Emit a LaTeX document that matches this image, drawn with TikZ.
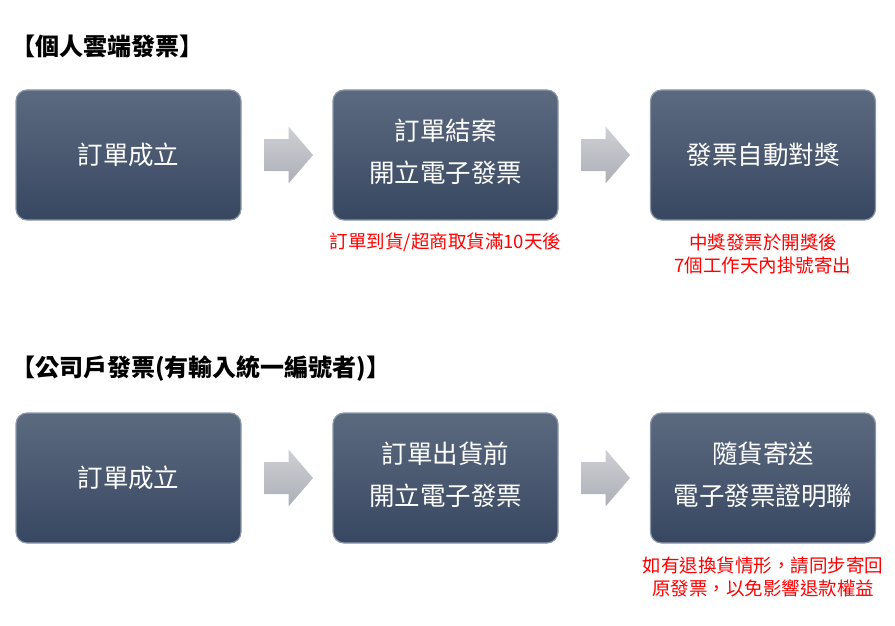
\documentclass[tikz,border=0pt]{standalone}
\usepackage{fontspec}
\setmainfont{Noto Sans CJK TC}
\definecolor{boxtop}{RGB}{92,106,128}
\definecolor{boxbot}{RGB}{56,71,97}
\definecolor{boxedge}{RGB}{140,152,170}
\definecolor{arrowtop}{RGB}{206,208,213}
\definecolor{arrowbot}{RGB}{172,175,182}
\definecolor{notered}{RGB}{255,0,0}
\tikzset{
  stepbox/.style={rounded corners=11pt, minimum width=225pt, minimum height=130pt,
    top color=boxtop, bottom color=boxbot, draw=boxedge, line width=1.2pt,
    inner sep=0pt},
  boxtext/.style={text=white, font=\fontsize{25.5}{42}\selectfont, align=center, inner sep=0pt},
  blockarrow/.style={top color=arrowtop, bottom color=arrowbot, draw=none},
  note/.style={text=notered, font=\fontsize{18.5}{23}\selectfont, align=center, inner sep=0pt},
  title/.style={font=\fontsize{24}{28}\selectfont\bfseries, anchor=west, inner sep=0pt}
}
\newcommand{\blockarr}[1]{%
  \path[blockarrow] ([shift={(-24.5,-16)}]#1) -- ([shift={(0,-16)}]#1) -- ([shift={(0,-28.5)}]#1)
    -- ([shift={(24.5,0)}]#1) -- ([shift={(0,28.5)}]#1) -- ([shift={(0,16)}]#1)
    -- ([shift={(-24.5,16)}]#1) -- cycle;}
\begin{document}
\begin{tikzpicture}[x=1pt,y=-1pt]
\useasboundingbox (0,0) rectangle (895,626);
\node[title] (t1) at (11,46) {【個人雲端發票】};
\node[stepbox] (a1) at (128.5,155) {};
\node[stepbox] (a2) at (445.5,155) {};
\node[stepbox] (a3) at (763,155) {};
\node[boxtext] (a1t) at (a1.center) {訂單成立};
\node[boxtext] (a2t) at ([yshift=3pt]a2.center) {訂單結案\\開立電子發票};
\node[boxtext] (a3t) at (a3.center) {發票自動對獎};
\coordinate (r1) at (288.5,155);
\coordinate (r2) at (605.5,155);
\blockarr{r1}
\blockarr{r2}
\node[note] (n1) at (445.5,242) {訂單到貨/超商取貨滿10天後};
\node[note] (n2) at (763,254) {中獎發票於開獎後\\7個工作天內掛號寄出};
\node[title] (t2) at (11,369) {【公司戶發票(有輸入統一編號者)】};
\node[stepbox] (b1) at (128.5,478) {};
\node[stepbox] (b2) at (445.5,478) {};
\node[stepbox] (b3) at (763,478) {};
\node[boxtext] (b1t) at (b1.center) {訂單成立};
\node[boxtext] (b2t) at ([yshift=3pt]b2.center) {訂單出貨前\\開立電子發票};
\node[boxtext] (b3t) at ([yshift=3pt]b3.center) {隨貨寄送\\電子發票證明聯};
\coordinate (s1) at (288.5,478);
\coordinate (s2) at (605.5,478);
\blockarr{s1}
\blockarr{s2}
\node[note] (m1) at (763,577) {如有退換貨情形，請同步寄回\\原發票，以免影響退款權益};
\end{tikzpicture}
\end{document}
